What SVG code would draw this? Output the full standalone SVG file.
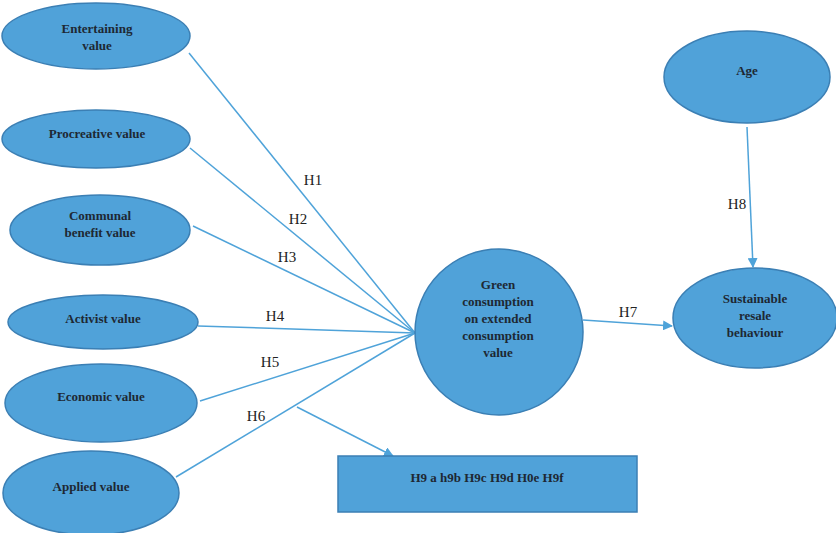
<svg xmlns="http://www.w3.org/2000/svg" width="836" height="533" viewBox="0 0 836 533">
<style>
.n{fill:#50a2d9;stroke:#3b7fb4;stroke-width:1.5}
.t{font-family:"Liberation Serif",serif;font-weight:bold;font-size:13px;fill:#1e2833;text-anchor:middle}
.l{stroke:#4fa3d9;stroke-width:1.5;fill:none}
.h{font-family:"Liberation Serif",serif;font-size:15px;fill:#222;text-anchor:middle}
</style>
<defs>
<marker id="a" markerWidth="10" markerHeight="10" refX="9" refY="5" orient="auto" markerUnits="userSpaceOnUse" viewBox="0 0 10 10">
<path d="M0,0 L10,5 L0,10 Z" fill="#4fa3d9"/>
</marker>
</defs>
<g id="connectors">
<line class="l" x1="189" y1="53" x2="415" y2="333"/>
<line class="l" x1="190" y1="148" x2="415" y2="333"/>
<line class="l" x1="193" y1="226" x2="415" y2="333"/>
<line class="l" x1="198" y1="326" x2="415" y2="333"/>
<line class="l" x1="200" y1="401" x2="415" y2="333"/>
<line class="l" x1="176" y1="477" x2="415" y2="333"/>
<line class="l" x1="297" y1="407" x2="393" y2="456" marker-end="url(#a)"/>
<line class="l" x1="583" y1="320" x2="672" y2="326" marker-end="url(#a)"/>
<line class="l" x1="747" y1="127" x2="753" y2="267" marker-end="url(#a)"/>
<text class="h" x="313" y="185">H1</text>
<text class="h" x="298" y="224">H2</text>
<text class="h" x="287" y="262">H3</text>
<text class="h" x="275" y="321">H4</text>
<text class="h" x="270" y="367">H5</text>
<text class="h" x="256" y="421">H6</text>
<text class="h" x="628" y="317">H7</text>
<text class="h" x="737" y="209">H8</text>
</g>
<g id="entertaining"><ellipse class="n" cx="96" cy="36" rx="94" ry="33"/><text class="t" x="97" y="33">Entertaining</text><text class="t" x="97" y="50">value</text></g>
<g id="procreative"><ellipse class="n" cx="96" cy="139" rx="94" ry="29"/><text class="t" x="97" y="138">Procreative value</text></g>
<g id="communal"><ellipse class="n" cx="100" cy="230" rx="90" ry="35"/><text class="t" x="100" y="220">Communal</text><text class="t" x="100" y="237">benefit value</text></g>
<g id="activist"><ellipse class="n" cx="103" cy="322" rx="95" ry="27"/><text class="t" x="103" y="323">Activist value</text></g>
<g id="economic"><ellipse class="n" cx="101" cy="403" rx="96" ry="39"/><text class="t" x="101" y="401">Economic value</text></g>
<g id="applied"><ellipse class="n" cx="91" cy="493" rx="88" ry="42"/><text class="t" x="91" y="491">Applied value</text></g>
<g id="green"><ellipse class="n" cx="499" cy="332" rx="84" ry="83"/>
<text class="t" x="498" y="289">Green</text><text class="t" x="498" y="306">consumption</text><text class="t" x="498" y="323">on extended</text><text class="t" x="498" y="340">consumption</text><text class="t" x="498" y="357">value</text></g>
<g id="sustainable"><ellipse class="n" cx="755" cy="318" rx="82" ry="50"/><text class="t" x="755" y="303">Sustainable</text><text class="t" x="755" y="320">resale</text><text class="t" x="755" y="337">behaviour</text></g>
<g id="age"><ellipse class="n" cx="747" cy="77" rx="83" ry="46"/><text class="t" x="747" y="75">Age</text></g>
<g id="h9box"><rect class="n" x="338" y="456" width="299" height="56"/><text class="t" x="487" y="482">H9 a h9b H9c H9d H0e H9f</text></g>
</svg>
